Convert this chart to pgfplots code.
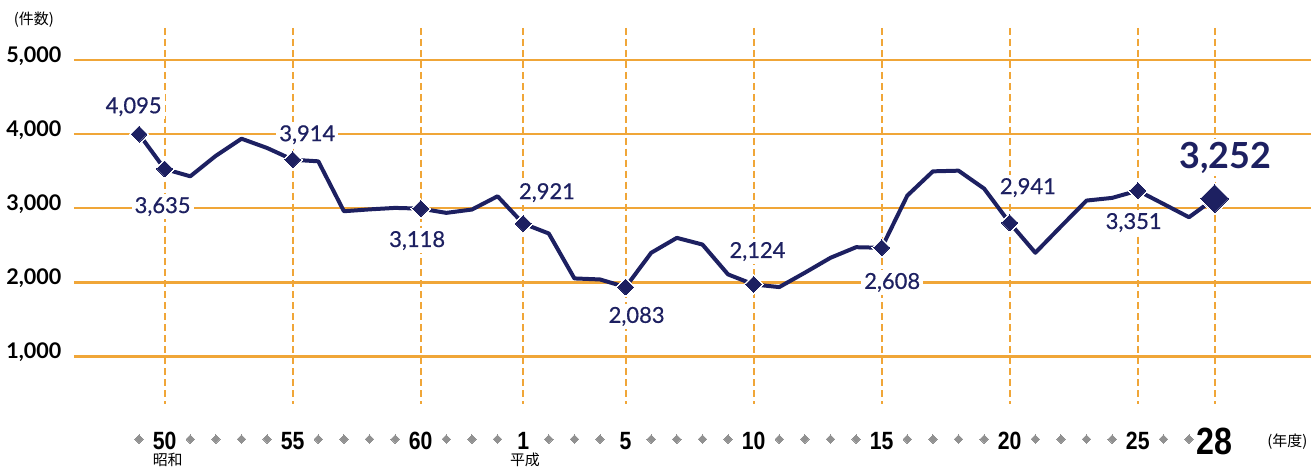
\documentclass[border=0pt]{standalone}
\usepackage{pgfplots}
\pgfplotsset{compat=1.18}
\usepackage{fontspec}
\setmainfont{Lato}
\newfontfamily\labfont[FakeBold=0.6]{Lato}
\newfontfamily\condfont[FakeStretch=0.85]{Liberation Sans}
\newfontfamily\jp{Noto Sans CJK JP}
\definecolor{navy}{RGB}{29,32,97}
\definecolor{gridor}{RGB}{240,166,56}
\definecolor{dotgray}{RGB}{145,145,145}
\tikzset{lab/.style={fill=white, inner sep=1.5pt, text=navy, font=\labfont\fontsize{11}{13}\selectfont}}
\begin{document}
\begin{tikzpicture}
\begin{axis}[
  scale only axis, width=657pt, height=236pt,
  xmin=1968.570, xmax=2019.778, ymin=-543.7, ymax=5808.9,
  axis line style={draw=none}, tick style={draw=none}, major tick length=0pt,
  clip=false,
  ytick={1000,2000,3000,4000,5000},
  scaled y ticks=false,
  /pgf/number format/assume math mode=true,
  /pgf/number format/1000 sep={,},
  yticklabel style={anchor=east, inner sep=0pt, xshift=31pt, yshift=2pt, font=\fontsize{10.8}{12}\selectfont\bfseries, text=black},
  xtick={1975,1980,1985,1989,1993,1998,2003,2008,2013,2016},
  xticklabels={50,55,60,1,5,10,15,20,25,{\fontsize{19}{19}\selectfont 28}},
  xticklabel style={anchor=center, inner sep=0pt, yshift=15pt, font=\condfont\bfseries\fontsize{12.5}{12}\selectfont, text=black},
]
% horizontal grid
\pgfplotsinvokeforeach{1000,2000,3000,4000,5000}{
  \draw[gridor, line width=1.1pt] (axis cs:1971.45,#1) -- (axis cs:2019.778,#1);
}
% vertical dashed lines
\pgfplotsinvokeforeach{1975,1980,1985,1989,1993,1998,2003,2008,2013,2016}{
  \draw[gridor, line width=1pt, dash pattern=on 3.5pt off 2pt] (axis cs:#1,5432) -- (axis cs:#1,358);
}
% gray year dots
\addplot[only marks, color=dotgray, mark=square*, mark size=1.5pt, mark options={rotate=45, line width=0pt}] coordinates {
(1974,-113) (1976,-113) (1977,-113) (1978,-113) (1979,-113) (1981,-113) (1982,-113) (1983,-113) (1984,-113)
(1986,-113) (1987,-113) (1988,-113) (1990,-113) (1991,-113) (1992,-113) (1994,-113) (1995,-113) (1996,-113)
(1997,-113) (1999,-113) (2000,-113) (2001,-113) (2002,-113) (2004,-113) (2005,-113) (2006,-113) (2007,-113)
(2009,-113) (2010,-113) (2011,-113) (2012,-113) (2014,-113) (2015,-113)
};
% value labels
\node[lab] at (axis cs:1973.79,4369) {4,095};
\node[lab] at (axis cs:1974.92,3023) {3,635};
\node[lab] at (axis cs:1980.57,3992) {3,914};
\node[lab] at (axis cs:1984.86,2565) {3,118};
\node[lab] at (axis cs:1989.93,3211) {2,921};
\node[lab] at (axis cs:1993.43,1542) {2,083};
\node[lab] at (axis cs:1998.15,2417) {2,124};
\node[lab] at (axis cs:2003.41,2000) {2,608};
\node[lab] at (axis cs:2008.71,3279) {2,941};
\node[lab] at (axis cs:2012.84,2808) {3,351};
\node[lab, font=\fontsize{18}{20}\selectfont\bfseries] at (axis cs:2016.43,3682) {3,252};
% main line
\addplot[navy, line width=2pt, line join=round, mark=none] coordinates {
(1974,4000) (1975,3530) (1976,3431) (1977,3708) (1978,3938) (1979,3813) (1980,3655) (1981,3633)
(1982,2960) (1983,2985) (1984,3005) (1985,2995) (1986,2938) (1987,2983) (1988,3162) (1989,2794)
(1990,2660) (1991,2054) (1992,2040) (1993,1937) (1994,2400) (1995,2601) (1996,2511) (1997,2108)
(1998,1973) (1999,1937) (2000,2131) (2001,2332) (2002,2475) (2003,2467) (2004,3171) (2005,3498)
(2006,3507) (2007,3265) (2008,2803) (2009,2400) (2010,2755) (2011,3104) (2012,3140) (2013,3238)
(2014,3059) (2015,2879) (2016,3131)
};
% markers
\addplot[only marks, color=white, mark=square*, mark size=3.5pt, mark options={rotate=45, line width=0pt}] coordinates {
(1974,4000) (1975,3530) (1980,3655) (1985,2995) (1989,2794) (1993,1937) (1998,1973) (2003,2467) (2008,2803) (2013,3238)};
\addplot[only marks, color=navy, mark=square*, mark size=2.8pt, mark options={rotate=45, line width=0pt}] coordinates {
(1974,4000) (1975,3530) (1980,3655) (1985,2995) (1989,2794) (1993,1937) (1998,1973) (2003,2467) (2008,2803) (2013,3238)};
\addplot[only marks, color=white, mark=square*, mark size=5.7pt, mark options={rotate=45, line width=0pt}] coordinates {(2016,3131)};
\addplot[only marks, color=navy, mark=square*, mark size=4.9pt, mark options={rotate=45, line width=0pt}] coordinates {(2016,3131)};
% Japanese labels
\node[font=\jp\fontsize{7.5}{9}\selectfont, text=black] at (axis cs:1975.12,-396) {昭和};
\node[font=\jp\fontsize{7.5}{9}\selectfont, text=black] at (axis cs:1989.07,-396) {平成};
\node[font=\jp\fontsize{7.5}{9}\selectfont, text=black] at (axis cs:1969.895,5540) {(件数)};
\node[font=\jp\fontsize{7.5}{9}\selectfont, text=black] at (axis cs:2018.84,-153) {(年度)};
\end{axis}
\end{tikzpicture}
\end{document}
